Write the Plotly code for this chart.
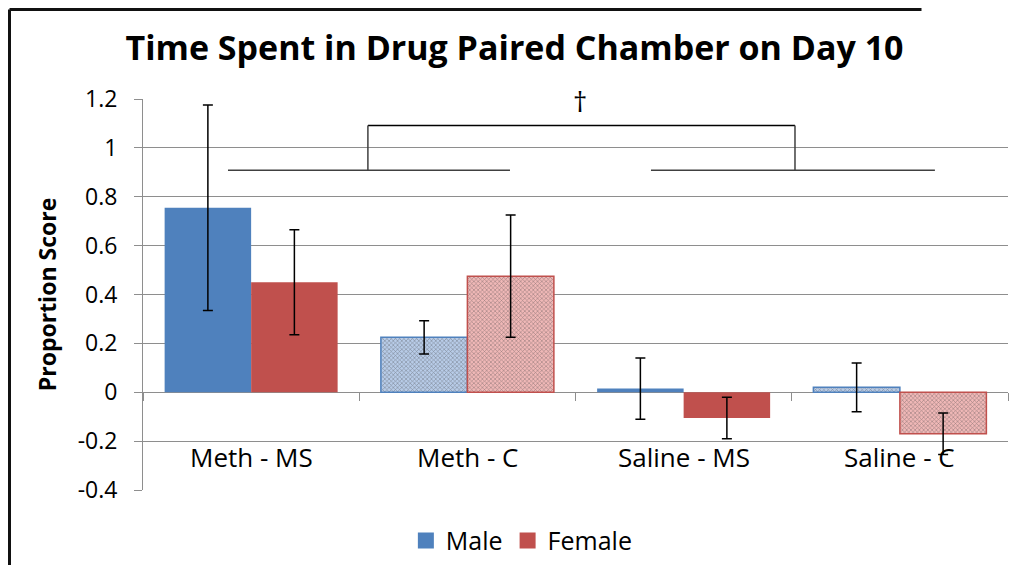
import plotly.graph_objects as go

categories = ["Meth - MS", "Meth - C", "Saline - MS", "Saline - C"]
male = [0.755, 0.225, 0.015, 0.02]
male_err = [0.42, 0.068, 0.125, 0.10]
female = [0.45, 0.475, -0.105, -0.17]
female_err = [0.215, 0.25, 0.085, 0.085]
hatched = [False, True, False, True]
y_ticks = [-0.4, -0.2, 0, 0.2, 0.4, 0.6, 0.8, 1.0, 1.2]
y_ticktext = ["-0.4", "-0.2", "0", "0.2", "0.4", "0.6", "0.8", "1", "1.2"]
y_range = [-0.4, 1.2]

FONT = "Open Sans"
BLUE = "#4F81BD"
BLUE_LIGHT = "#B8CCE8"
BLUE_HATCH = "#7A9ED0"
RED = "#C0504D"
RED_LIGHT = "#F0B8B7"
RED_HATCH = "#D8807E"
GRID = "#8E8E8E"


def bar_trace(name, vals, errs, solid, light, hatch):
    return go.Bar(
        name=name, x=categories, y=vals, showlegend=False,
        marker=dict(
            color=[light if h else solid for h in hatched],
            line=dict(color=solid, width=[1.5 if h else 0 for h in hatched]),
            pattern=dict(shape=["x" if h else "" for h in hatched],
                         fgcolor=hatch, size=3, solidity=0.35),
        ),
        error_y=dict(type="data", array=errs, visible=True, color="black",
                     thickness=1.5, width=5),
    )


def legend_entry(name, color):
    return go.Scatter(name=name, x=[None], y=[None], mode="markers",
                      marker=dict(symbol="square", size=16, color=color),
                      showlegend=True)


fig = go.Figure()
fig.add_trace(bar_trace("Male", male, male_err, BLUE, BLUE_LIGHT, BLUE_HATCH))
fig.add_trace(bar_trace("Female", female, female_err, RED, RED_LIGHT, RED_HATCH))
fig.add_trace(legend_entry("Male", BLUE))
fig.add_trace(legend_entry("Female", RED))

# significance bracket (category-index x coords, data y)
line_y = 0.908
top_y = 1.092
shapes = [
    dict(type="line", xref="x", yref="y", x0=-0.107, x1=1.197, y0=line_y, y1=line_y,
         line=dict(color="#404040", width=1.5)),
    dict(type="line", xref="x", yref="y", x0=1.849, x1=3.162, y0=line_y, y1=line_y,
         line=dict(color="#404040", width=1.5)),
    dict(type="line", xref="x", yref="y", x0=0.54, x1=2.515, y0=top_y, y1=top_y,
         line=dict(color="black", width=1.5)),
    dict(type="line", xref="x", yref="y", x0=0.54, x1=0.54, y0=top_y, y1=line_y,
         line=dict(color="#404040", width=1.5)),
    dict(type="line", xref="x", yref="y", x0=2.515, x1=2.515, y0=top_y, y1=line_y,
         line=dict(color="#404040", width=1.5)),
]

annotations = [
    dict(x=1.52, y=1.19, xref="x", yref="y", text="†", showarrow=False,
         font=dict(family=FONT, size=28, color="black"), yanchor="middle"),
]
for c in categories:
    annotations.append(dict(x=c, y=-0.265, xref="x", yref="y", text=c, showarrow=False,
                            font=dict(family=FONT, size=26, color="black"),
                            yanchor="middle"))

W, H = 1013, 557
L, R, T, B = 135, 13, 91, 75

# outer frame (left and top edges), in paper coords computed from pixel offsets
pw, ph = W - L - R, H - T - B
fx = (1.5 - L) / pw
fy = 1 + (T - 1.5) / ph
shapes.append(dict(type="line", xref="paper", yref="paper", x0=fx, x1=fx, y0=fy, y1=-B / ph,
                   line=dict(color="#111111", width=3)))
shapes.append(dict(type="line", xref="paper", yref="paper", x0=fx, x1=0.9, y0=fy, y1=fy,
                   line=dict(color="#111111", width=3)))

fig.update_layout(
    width=W, height=H,
    margin=dict(l=L, r=R, t=T, b=B, autoexpand=False),
    paper_bgcolor="white", plot_bgcolor="white",
    barmode="group", bargap=0.2, bargroupgap=0,
    title=dict(text="<b>Time Spent in Drug Paired Chamber on Day 10</b>",
               x=0.5, xanchor="center", y=1 - 40 / H, yanchor="middle",
               font=dict(family=FONT, size=34, color="black")),
    font=dict(family=FONT, color="black"),
    shapes=shapes, annotations=annotations,
    showlegend=True,
    legend=dict(orientation="h", x=0.438, xanchor="center", y=-0.13, yanchor="middle",
                font=dict(family=FONT, size=25, color="black"),
                itemwidth=30, traceorder="normal"),
    xaxis=dict(anchor="free", position=(0 - y_range[0]) / (y_range[1] - y_range[0]),
               showticklabels=False, showgrid=False, showline=False,
               ticks="outside", ticklen=8, tickcolor=GRID, tickson="boundaries",
               zeroline=False),
    yaxis=dict(range=y_range, tickvals=y_ticks, ticktext=y_ticktext,
               showgrid=True, gridcolor=GRID, gridwidth=1,
               showline=True, linecolor=GRID, linewidth=1,
               ticks="outside", ticklen=8, tickcolor=GRID,
               ticklabelstandoff=12,
               zeroline=True, zerolinecolor=GRID, zerolinewidth=1,
               tickfont=dict(family=FONT, size=23, color="black"),
               title=dict(text="<b>Proportion Score</b>", standoff=14,
                          font=dict(family=FONT, size=23, color="black"))),
)

fig.write_html("out.html", config={"displayModeBar": False})
